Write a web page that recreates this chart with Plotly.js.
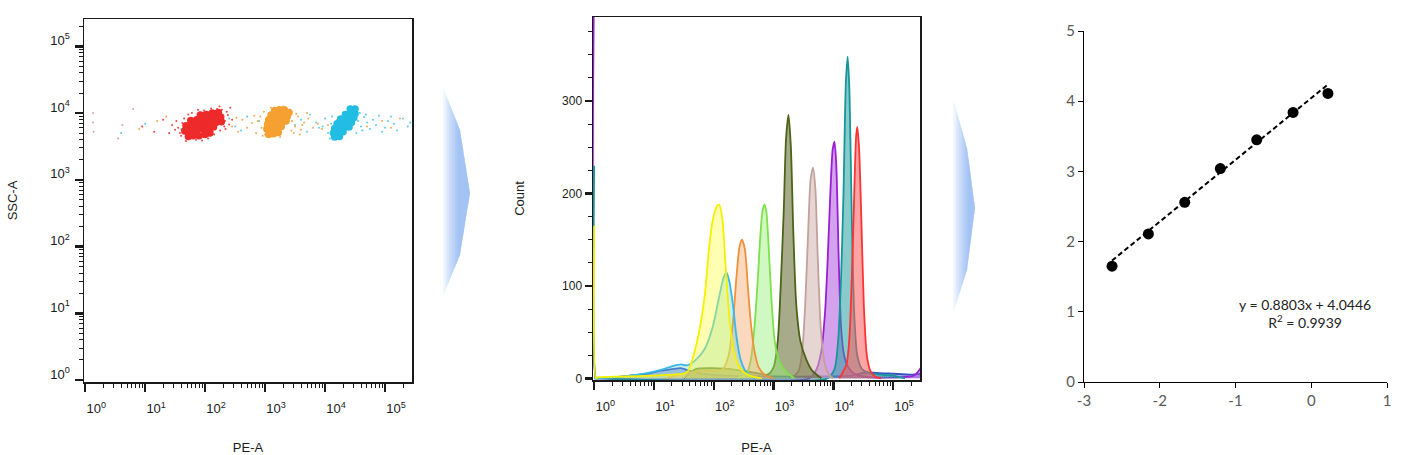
<!DOCTYPE html>
<html><head><meta charset="utf-8">
<script src="https://cdn.plot.ly/plotly-3.0.1.min.js"></script>
<style>html,body{margin:0;padding:0;background:#fff}#chart{width:1401px;height:455px}</style>
</head><body><div id="chart"></div>
<script>
// ================= DATA =================
// Panel 1: dot plot, PE-A (x) vs SSC-A (y); values stored as log10
const redCoreLogPE  = [1.92,2.02,2.12,2.22, 1.76,1.86,1.96,2.06,2.16,2.26, 1.68,1.78,1.88,1.98,2.08,2.18,2.27, 1.66,1.76,1.86,1.96,2.06,2.14, 1.72,1.80,1.90,2.00,2.08];
const redCoreLogSSC = [3.97,3.98,4.00,4.01, 3.89,3.90,3.91,3.92,3.93,3.94, 3.81,3.82,3.83,3.84,3.85,3.86,3.87, 3.73,3.74,3.75,3.76,3.77,3.79, 3.65,3.66,3.66,3.68,3.70];
const redDotLogPE   = [1.55,1.58,1.62,1.60,1.65,1.70,1.72,2.30,2.33,2.36,2.28,2.25,2.32,1.85,1.95,2.05,2.15,1.78,2.20,2.38,1.50,1.45,1.40,2.42,2.45,1.98,2.10,1.68,0.95,1.15,1.30,1.52,2.34,2.40,1.62,2.24,1.88];
const redDotLogSSC  = [3.78,3.70,3.85,3.66,3.92,3.62,3.98,3.95,3.88,4.02,4.05,3.74,3.80,3.60,3.59,3.62,3.68,4.00,4.06,3.97,3.75,3.82,3.70,4.08,3.90,4.04,4.07,3.58,3.80,3.72,3.90,3.88,3.76,3.83,3.74,4.10,4.05];
const orangeCoreLogPE  = [3.16,3.24,3.32, 3.10,3.18,3.26,3.34,3.40, 3.06,3.14,3.22,3.30,3.37, 3.04,3.12,3.20,3.28,3.35, 3.03,3.11,3.19,3.27, 3.06,3.14,3.22];
const orangeCoreLogSSC = [4.04,4.05,4.05, 3.97,3.98,3.99,4.00,4.01, 3.90,3.91,3.92,3.93,3.95, 3.83,3.84,3.85,3.86,3.88, 3.76,3.77,3.78,3.80, 3.68,3.69,3.71];
const orangeDotLogPE   = [2.45,2.55,2.62,2.70,2.78,2.85,2.92,2.96,3.45,3.50,3.55,3.60,3.65,3.72,3.80,3.88,3.95,2.98,3.42,3.48,3.00,3.10,3.30,3.40,2.88,3.58,3.70,4.05,4.20,4.40,4.70,4.95,5.10,5.25,1.20,0.90,1.35,2.30,2.52,2.94,3.44,3.52,2.82,3.62,3.25];
const orangeDotLogSSC  = [3.80,3.72,3.90,3.78,3.85,3.70,3.95,3.66,3.88,3.80,3.95,3.75,3.86,3.92,3.78,3.84,3.76,4.02,4.05,3.70,3.68,4.08,4.10,3.99,3.88,3.68,4.00,3.82,3.90,3.95,3.80,3.88,3.78,3.92,3.88,3.76,3.95,3.84,3.93,3.78,3.74,3.99,3.96,3.82,3.64];
const cyanCoreLogPE  = [4.42,4.50, 4.34,4.42,4.50, 4.26,4.34,4.42,4.48, 4.20,4.28,4.36,4.44, 4.16,4.24,4.32,4.40, 4.14,4.22,4.30, 4.16,4.24];
const cyanCoreLogSSC = [4.06,4.06, 3.98,3.99,3.99, 3.91,3.92,3.92,3.93, 3.84,3.85,3.85,3.86, 3.77,3.78,3.78,3.79, 3.70,3.71,3.72, 3.64,3.65];
const cyanDotLogPE   = [1.60,1.80,2.40,2.50,2.60,2.70,2.90,3.50,3.60,3.70,3.75,3.85,3.90,4.00,4.05,4.10,4.55,4.60,4.65,4.70,4.75,4.80,4.85,4.90,5.00,5.05,5.15,5.20,5.30,5.38,5.42,4.12,4.52,4.58,1.00,0.60,4.62,4.68,4.08,3.96,5.10,4.95];
const cyanDotLogSSC  = [3.76,3.84,3.92,3.80,3.74,3.95,3.88,3.82,3.90,3.72,3.98,3.86,3.78,3.92,3.70,3.84,3.88,3.80,3.94,3.86,3.76,3.90,3.82,3.96,3.78,3.88,3.84,3.74,3.92,3.80,3.86,3.95,3.70,4.00,3.84,3.70,3.74,3.98,3.62,3.80,3.95,3.72];
const grayDotLogPE   = [0.13,0.13,0.14,0.55,0.62,0.80];
const grayDotLogSSC  = [4.00,3.86,3.72,3.62,3.82,4.06];

// Panel 2: overlaid histograms, PE-A (log10) vs Count
const peBlue    = [0.00,0.30,0.60,0.90,1.10,1.30,1.45,1.60,1.80,2.20,3.00,3.80,4.30,4.50,4.70,5.00,5.30,5.47];
const cntBlue   = [0,1,3,5,8,10,11,8,5,3,2,2,3,6,6,5,4,5];
const pePurple  = [0.00,0.03,0.06,3.60,3.72,3.80,3.86,3.90,3.95,3.99,4.02,4.05,4.09,4.13,4.18,4.25,4.35,4.50,5.00,5.35,5.47];
const cntPurple = [450,0,0,0,10,30,70,120,200,248,256,230,130,55,25,12,5,2,1,3,12];
const peTeal    = [0.00,0.03,0.06,3.90,4.02,4.08,4.13,4.17,4.21,4.24,4.27,4.31,4.35,4.40,4.48,4.60,4.80,5.00,5.20];
const cntTeal   = [230,0,0,0,10,40,110,200,320,348,310,170,70,25,10,6,4,3,0];
const peRed     = [4.10,4.22,4.27,4.31,4.35,4.38,4.40,4.43,4.47,4.51,4.56,4.62,4.70,4.80];
const cntRed    = [0,15,45,110,200,260,272,250,170,80,25,8,2,0];
const peRosy    = [3.30,3.42,3.48,3.53,3.58,3.62,3.66,3.70,3.74,3.79,3.85,3.92,4.00];
const cntRosy   = [0,8,30,80,160,215,228,205,130,55,18,5,0];
const peOlive   = [1.50,1.70,2.00,2.40,2.70,2.90,3.00,3.07,3.12,3.17,3.21,3.25,3.29,3.33,3.38,3.45,3.55,3.65,3.80];
const cntOlive  = [0,10,11,9,6,4,12,40,100,180,260,285,250,160,80,40,20,8,0];
const peGreen   = [2.40,2.55,2.62,2.68,2.73,2.78,2.82,2.85,2.88,2.92,2.97,3.02,3.08,3.15,3.25,3.35];
const cntGreen  = [0,5,20,55,100,155,183,188,180,140,80,40,22,12,5,0];
const peOrange  = [1.20,1.50,1.80,2.00,2.15,2.25,2.32,2.38,2.43,2.47,2.52,2.57,2.62,2.68,2.75,2.85,3.00];
const cntOrange = [0,5,8,8,10,25,60,110,142,150,140,100,60,30,12,4,0];
const peSky     = [0.00,0.30,0.60,0.90,1.10,1.30,1.45,1.55,1.70,1.85,1.98,2.08,2.16,2.21,2.26,2.32,2.38,2.45,2.55,2.70];
const cntSky    = [0,1,3,6,9,13,15,14,20,32,55,85,108,115,105,80,45,20,6,0];
const peYellow  = [0.00,0.03,0.06,0.50,1.00,1.30,1.50,1.57,1.65,1.76,1.85,1.92,1.98,2.05,2.09,2.14,2.20,2.27,2.35,2.45,2.60,2.80];
const cntYellow = [165,0,1,2,3,4,5,8,22,52,90,140,170,186,188,175,120,60,25,10,3,0];

// Panel 3: standard curve
const logX = [-2.63,-2.15,-1.67,-1.20,-0.72,-0.24,0.22];
const logY = [1.65,2.11,2.56,3.04,3.45,3.84,4.11];
const fitSlope = 0.8803, fitIntercept = 4.0446, fitR2 = 0.9939;

// Tick labels
const decadeVals = [1,10,100,1000,10000,100000];
const decadeText = ['10<sup>0</sup>','10<sup>1</sup>','10<sup>2</sup>','10<sup>3</sup>','10<sup>4</sup>','10<sup>5</sup>'];
const countTicks = [0,100,200,300];
const curveXTicks = [-3,-2,-1,0,1];
const curveXText = ['-3','-2','-1','0','1'];
const curveYTicks = [0,1,2,3,4,5];

// ================= DRAW =================
const W = 1401, H = 455;
const fx = p => p / W, fy = p => 1 - p / H;
const p10 = a => a.map(v => Math.pow(10, v));
const FONT = 'Liberation Sans, Arial, sans-serif';

const traces = [];
function dots(xs, ys, color, size) {
  traces.push({type:'scatter', mode:'markers', x:p10(xs), y:p10(ys), xaxis:'x', yaxis:'y',
    marker:{color, size, line:{width:0}}, hoverinfo:'skip', showlegend:false});
}
dots(grayDotLogPE, grayDotLogSSC, '#d9a0a0', 2);
dots(cyanDotLogPE, cyanDotLogSSC, '#55cde8', 2);
dots(orangeDotLogPE, orangeDotLogSSC, '#f3a850', 2);
dots(redDotLogPE, redDotLogSSC, '#f04040', 2);
dots(redCoreLogPE, redCoreLogSSC, '#ee2a2a', 7.5);
dots(orangeCoreLogPE, orangeCoreLogSSC, '#f5a030', 7.5);
dots(cyanCoreLogPE, cyanCoreLogSSC, '#22bde3', 7.5);

function hist(xs, ys, line, fill) {
  traces.push({type:'scatter', mode:'lines', x:p10(xs), y:ys, xaxis:'x2', yaxis:'y2',
    fill:'tozeroy', fillcolor:fill, line:{color:line, width:1.8, shape:'spline', smoothing:0.7},
    hoverinfo:'skip', showlegend:false});
}
hist(peBlue, cntBlue, '#3550c8', 'rgba(60,80,200,0.40)');
hist(pePurple, cntPurple, '#9a1ed6', 'rgba(170,70,220,0.50)');
hist(peTeal, cntTeal, '#16969a', 'rgba(40,160,160,0.55)');
hist(peRed, cntRed, '#ff3333', 'rgba(255,90,90,0.55)');
hist(peRosy, cntRosy, '#c4a09a', 'rgba(210,180,175,0.55)');
hist(peOlive, cntOlive, '#4a6418', 'rgba(110,115,60,0.60)');
hist(peGreen, cntGreen, '#7ee04a', 'rgba(150,240,120,0.45)');
hist(peOrange, cntOrange, '#f0913a', 'rgba(245,170,110,0.45)');
hist(peSky, cntSky, '#36b9e8', 'rgba(110,210,200,0.35)');
hist(peYellow, cntYellow, '#f5f000', 'rgba(255,255,60,0.40)');

// Panel 3
const xMin = Math.min(...logX), xMax = Math.max(...logX);
traces.push({type:'scatter', mode:'lines', x:[xMin, xMax], y:[fitSlope*xMin+fitIntercept, fitSlope*xMax+fitIntercept],
  xaxis:'x3', yaxis:'y3', line:{color:'#000', width:2, dash:'5px,3px'}, hoverinfo:'skip', showlegend:false});
traces.push({type:'scatter', mode:'markers', x:logX, y:logY, xaxis:'x3', yaxis:'y3',
  marker:{color:'#000', size:11}, hoverinfo:'skip', showlegend:false});

function logAx(d0, d1, range, anchor, extra) {
  return Object.assign({type:'log', domain:[fx(d0), fx(d1)], range, anchor,
    showline:true, linecolor:'#1a1a1a', linewidth:1.5, mirror:true,
    ticks:'outside', ticklen:8, tickwidth:2.5, tickcolor:'#1a1a1a',
    tickmode:'array', tickvals:decadeVals, ticktext:decadeText,
    showgrid:false, zeroline:false,
    minor:{ticks:'outside', ticklen:4, tickwidth:1, tickcolor:'#1a1a1a', dtick:'D1', showgrid:false},
    tickfont:{family:FONT, size:13, color:'#1a1a1a'}}, extra || {});
}

// decorative arrows (between panels): stacked translucent layers give a left-to-right gradient
function arrowShapes(xl, top, barbX, barbTop, tipX, tipY, barbBot, bot) {
  const out = [];
  for (let dx = 0; dx <= 15; dx += 1.5) {
    const x0 = xl + dx;
    const yt = top + (barbTop - top) * dx / (barbX - xl);
    const yb = bot - (bot - barbBot) * dx / (barbX - xl);
    const pts = [[x0,yt],[barbX,barbTop],[tipX,tipY],[barbX,barbBot],[x0,yb]];
    const path = 'M' + pts.map(p => fx(p[0]).toFixed(5) + ',' + fy(p[1]).toFixed(5)).join(' L') + ' Z';
    out.push({type:'path', xref:'paper', yref:'paper', path, fillcolor:'rgba(95,145,235,0.065)', line:{width:0}, layer:'below'});
  }
  return out;
}

const layout = {
  width: W, height: H, margin:{l:0, r:0, t:0, b:0},
  paper_bgcolor:'#fff', plot_bgcolor:'rgba(0,0,0,0)', showlegend:false,
  font:{family:FONT, color:'#1a1a1a'},
  xaxis: logAx(84, 412, [-0.02, 5.45], 'y', {ticklabelshift:11, ticklabelstandoff:6,
    title:{text:'PE-A', font:{family:FONT, size:13}, standoff:30}}),
  yaxis: Object.assign(logAx(0, 1, [-0.03, 5.41], 'x', {ticklabelshift:-6, ticklabelstandoff:2,
    title:{text:'SSC-A', font:{family:FONT, size:13}, standoff:30}}), {domain:[fy(382), fy(19)]}),
  xaxis2: logAx(593, 920, [-0.02, 5.45], 'y2', {ticklabelshift:11, ticklabelstandoff:6,
    title:{text:'PE-A', font:{family:FONT, size:13}, standoff:30}}),
  yaxis2: {domain:[fy(380), fy(17)], anchor:'x2', range:[-1.8, 391],
    showline:true, linecolor:'#1a1a1a', linewidth:1.5, mirror:true,
    ticks:'outside', ticklen:7, tickwidth:2.5, tickcolor:'#1a1a1a',
    tickmode:'array', tickvals:countTicks, showgrid:false, zeroline:false,
    minor:{ticks:'outside', ticklen:4, tickwidth:1, tickcolor:'#1a1a1a', dtick:25, showgrid:false},
    tickfont:{family:FONT, size:12, color:'#1a1a1a'},
    title:{text:'Count', font:{family:FONT, size:13}, standoff:34}},
  xaxis3: {domain:[fx(1084), fx(1387)], anchor:'y3', range:[-3, 1],
    showline:true, linecolor:'#000', linewidth:1, ticks:'outside', ticklen:5, tickcolor:'#000',
    tickmode:'array', tickvals:curveXTicks, ticktext:curveXText, showgrid:false, zeroline:false,
    tickfont:{family:'Lato, sans-serif', size:15, color:'#595959'}},
  yaxis3: {domain:[fy(382), fy(31)], anchor:'x3', range:[0, 5],
    showline:true, linecolor:'#000', linewidth:1, ticks:'outside', ticklen:5, tickcolor:'#000',
    tickmode:'array', tickvals:curveYTicks, showgrid:false, zeroline:false,
    tickfont:{family:'Lato, sans-serif', size:15, color:'#595959'}},
  annotations: [{xref:'x3', yref:'y3', x:-0.08, y:0.98, showarrow:false, align:'center',
    text:'y = ' + fitSlope.toFixed(4) + 'x + ' + fitIntercept.toFixed(4) + '<br>R<sup>2</sup> = ' + fitR2.toFixed(4),
    font:{family:'Lato, sans-serif', size:14, color:'#222'}}],
  shapes: [].concat(
    arrowShapes(443, 87, 460, 130, 470, 193, 255, 296),
    arrowShapes(953, 98, 967, 148, 975, 208, 270, 314))
};

Plotly.newPlot('chart', traces, layout, {staticPlot:true, displayModeBar:false});
</script>
</body></html>
